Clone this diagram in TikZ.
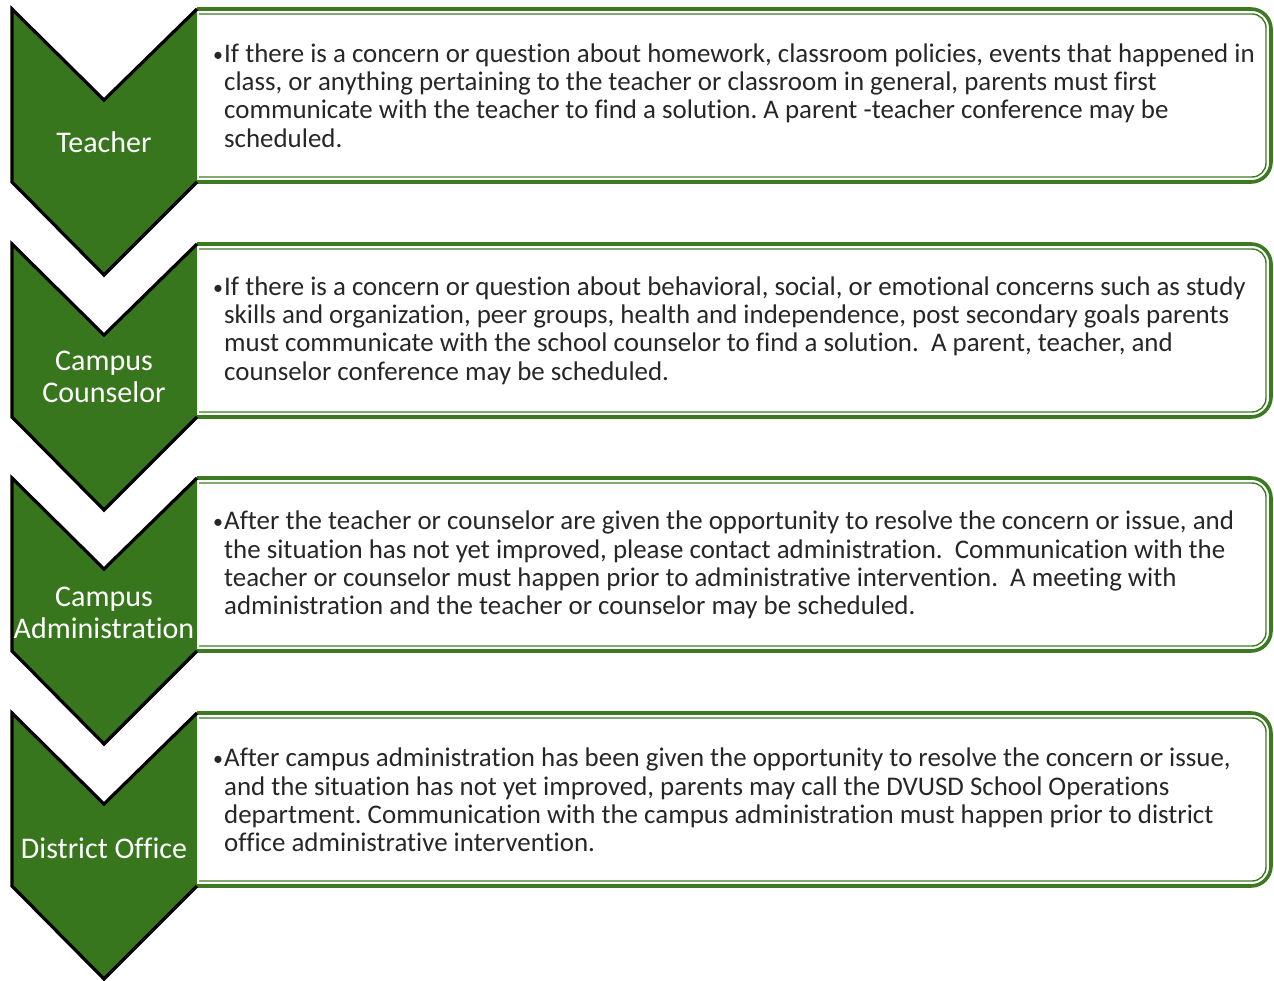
\documentclass[tikz,border=0pt]{standalone}
\usepackage{fontspec}
\setmainfont{Carlito}[Ligatures=NoCommon]
\usepackage{xcolor}
\usetikzlibrary{positioning}
\definecolor{stepgreen}{HTML}{38761D}
\definecolor{boxgreen}{HTML}{3C7A22}
\definecolor{bodygray}{HTML}{262626}
\frenchspacing
\newcommand{\bul}{\llap{\raisebox{1pt}{\fontsize{20}{20}\selectfont•}\hspace{1pt}}}

\begin{document}
\begin{tikzpicture}[x=1pt, y=-1pt,
      chev/.style={fill=stepgreen},
      chevline/.style={draw=black, line width=3.2pt, line join=miter},
      outerline/.style={draw=boxgreen, line width=3.6pt, rounded corners=20pt},
      innerline/.style={draw=boxgreen, line width=1.4pt, rounded corners=14pt},
      label/.style={text=white, align=center, inner sep=0pt,
                    font=\fontsize{30}{32}\selectfont},
      body/.style={text=bodygray, align=left, inner sep=0pt, anchor=west,
                   font=\fontsize{26.9}{28.3}\selectfont},
    ]
    \useasboundingbox (0,0) rectangle (1274,981);

    % Teacher
    \draw[outerline] (197,9) -- (1271,9) -- (1271,182) -- (197,182);
    \draw[innerline] (199,14) -- (1266,14) -- (1266,177) -- (199,177);
    \fill[chev] (12,9) -- (104,100) -- (197,9) -- (197,182) -- (104,275) -- (12,182) -- cycle;
    \draw[chevline] (197,9) -- (104,100) -- (12,9) -- (12,182) -- (104,275) -- (197,182);
    \node[label] (teacher) at (104,142) {Teacher};
    \node[body] (teachertext) at (224,95.5)
      {\bul If there is a concern or question about homework, classroom policies, events that happened in\\
       class, or anything pertaining to the teacher or classroom in general, parents must first\\
       communicate with the teacher to find a solution. A parent -teacher conference may be\\
       scheduled.};

    % Campus Counselor
    \draw[outerline] (197,244) -- (1271,244) -- (1271,417) -- (197,417);
    \draw[innerline] (199,249) -- (1266,249) -- (1266,412) -- (199,412);
    \fill[chev] (12,244) -- (104,335) -- (197,244) -- (197,417) -- (104,510) -- (12,417) -- cycle;
    \draw[chevline] (197,244) -- (104,335) -- (12,244) -- (12,417) -- (104,510) -- (197,417);
    \node[label] (counselor) at (104,377) {Campus\\Counselor};
    \node[body] (counselortext) at (224,330.5)
      {\bul If there is a concern or question about behavioral, social, or emotional concerns such as study\\
       skills and organization, peer groups, health and independence, post secondary goals parents\\
       must communicate with the school counselor to find a solution.~ A parent, teacher, and\\
       counselor conference may be scheduled.};

    % Campus Administration
    \draw[outerline] (197,478) -- (1271,478) -- (1271,651) -- (197,651);
    \draw[innerline] (199,483) -- (1266,483) -- (1266,646) -- (199,646);
    \fill[chev] (12,478) -- (104,569) -- (197,478) -- (197,651) -- (104,744) -- (12,651) -- cycle;
    \draw[chevline] (197,478) -- (104,569) -- (12,478) -- (12,651) -- (104,744) -- (197,651);
    \node[label] (admin) at (104,613) {Campus\\Administration};
    \node[body] (admintext) at (224,565)
      {\bul After the teacher or counselor are given the opportunity to resolve the concern or issue, and\\
       the situation has not yet improved, please contact administration.~ Communication with the\\
       teacher or counselor must happen prior to administrative intervention.~ A meeting with\\
       administration and the teacher or counselor may be scheduled.};

    % District Office
    \draw[outerline] (197,713) -- (1271,713) -- (1271,886) -- (197,886);
    \draw[innerline] (199,718) -- (1266,718) -- (1266,881) -- (199,881);
    \fill[chev] (12,713) -- (104,804) -- (197,713) -- (197,886) -- (104,979) -- (12,886) -- cycle;
    \draw[chevline] (197,713) -- (104,804) -- (12,713) -- (12,886) -- (104,979) -- (197,886);
    \node[label] (district) at (104,848) {District Office};
    \node[body] (districttext) at (224,800)
      {\bul After campus administration has been given the opportunity to resolve the concern or issue,\\
       and the situation has not yet improved, parents may call the DVUSD School Operations\\
       department. Communication with the campus administration must happen prior to district\\
       office administrative intervention.};
  \end{tikzpicture}
\end{document}
